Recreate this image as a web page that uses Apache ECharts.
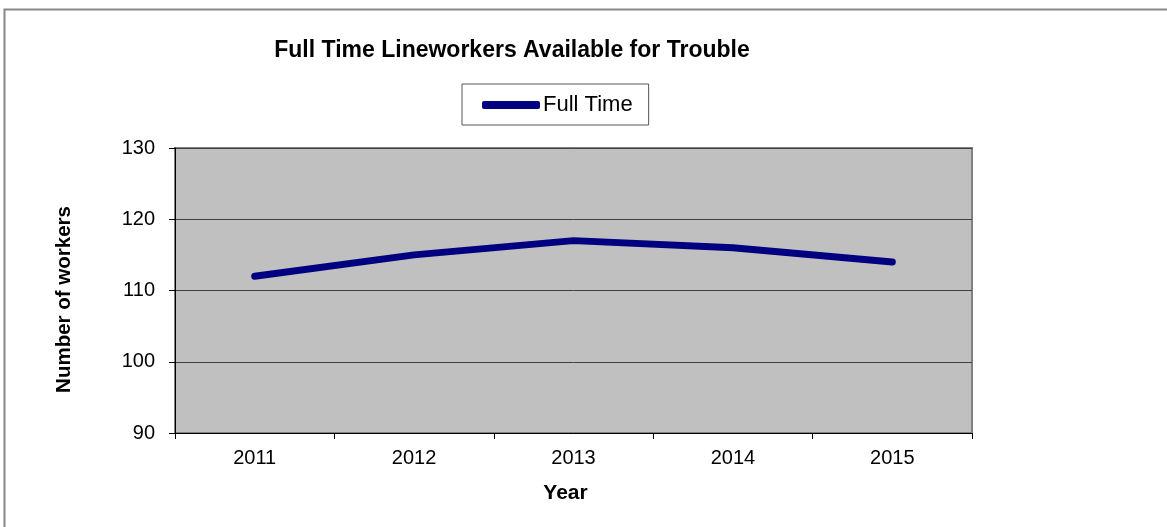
<!DOCTYPE html>
<html>
<head>
<meta charset="utf-8">
<script src="https://cdn.jsdelivr.net/npm/echarts@6/dist/echarts.min.js"></script>
<style>
  html, body { margin: 0; padding: 0; background: #fff; }
</style>
</head>
<body>
<!-- chart container -->
<div id="chartLineSimple" style="width: 1167px;height:527px;"></div>
<script>
const years = ['2011', '2012', '2013', '2014', '2015']
const fullTime = [112, 115, 117, 116, 114]
const yTicks = { min: 90, max: 130, interval: 10 }

const myChart = echarts.init(document.getElementById('chartLineSimple'))
const fontFamily = '"Liberation Sans", Arial, sans-serif'

const option = {
  backgroundColor: '#fff',
  textStyle: { fontFamily: fontFamily },
  animation: false,
  title: {
    text: 'Full Time Lineworkers Available for Trouble',
    left: 507,
    textAlign: 'center',
    top: 34,
    textStyle: { fontSize: 23, fontWeight: 'bold', color: '#000', fontFamily: fontFamily }
  },
  legend: {
    left: 462,
    top: 84,
    padding: [10, 16, 9, 20],
    borderColor: '#555',
    borderWidth: 1,
    itemWidth: 58,
    itemHeight: 8,
    icon: 'roundRect',
    textStyle: { fontSize: 22, color: '#000', padding: [0, 0, 0, -2] },
    data: ['Full Time']
  },
  grid: {
    left: 175,
    right: 195,
    top: 148,
    bottom: 94,
    show: true,
    backgroundColor: '#c0c0c0',
    borderColor: '#808080',
    borderWidth: 2
  },
  xAxis: {
    type: 'category',
    data: years,
    boundaryGap: true,
    name: 'Year',
    nameLocation: 'middle',
    nameGap: 50,
    nameTextStyle: { fontSize: 21, fontWeight: 'bold', color: '#000', padding: [0, 16, 0, 0] },
    axisLine: { lineStyle: { color: '#000', width: 1 } },
    axisTick: { show: true, length: 6, lineStyle: { color: '#000' } },
    axisLabel: { fontSize: 20, color: '#000', margin: 15 },
    splitLine: { show: false }
  },
  yAxis: {
    type: 'value',
    min: yTicks.min,
    max: yTicks.max,
    interval: yTicks.interval,
    name: 'Number of workers',
    nameLocation: 'middle',
    nameGap: 100,
    nameTextStyle: { fontSize: 20.5, fontWeight: 'bold', color: '#000', padding: [0, 18, 0, 0] },
    axisLine: { show: true, lineStyle: { color: '#000', width: 1 } },
    axisTick: { show: true, length: 6, lineStyle: { color: '#000' } },
    axisLabel: { fontSize: 20, color: '#000', margin: 20 },
    splitLine: { show: true, lineStyle: { color: '#404040', width: 1 } }
  },
  graphic: [
    {
      type: 'rect',
      shape: { x: 4.5, y: 9.5, width: 1200, height: 600 },
      style: { fill: 'none', stroke: '#888', lineWidth: 2 },
      silent: true,
      z: -1
    }
  ],
  series: [
    {
      name: 'Full Time',
      type: 'line',
      data: fullTime,
      showSymbol: false,
      symbol: 'none',
      color: '#000080',
      lineStyle: { color: '#000080', width: 7, cap: 'round', join: 'round' }
    }
  ]
}
myChart.setOption(option)
</script>
</body>
</html>
